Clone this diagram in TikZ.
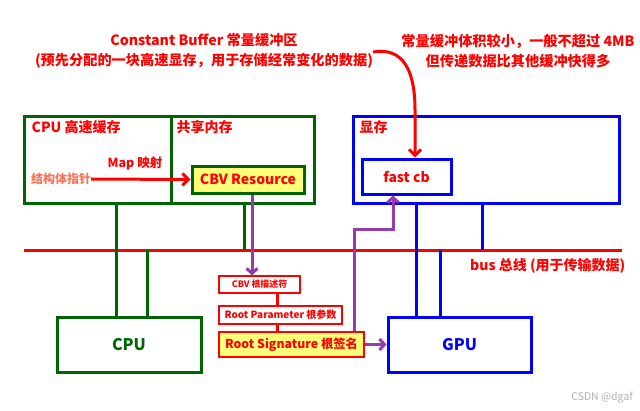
\documentclass[tikz,border=0pt]{standalone}
\usepackage{fontspec}
\setmainfont{Noto Sans CJK SC}
\usetikzlibrary{arrows.meta}
\definecolor{memgreen}{RGB}{0,100,0}
\definecolor{busred}{RGB}{255,0,0}
\definecolor{vramblue}{RGB}{0,0,255}
\definecolor{sigpurple}{RGB}{150,60,170}
\definecolor{ptrorange}{RGB}{250,115,85}
\definecolor{resyellow}{RGB}{255,255,120}
\begin{document}
\begin{tikzpicture}[
  x=1pt, y=-1pt,
  greenbox/.style={draw=memgreen, line width=3pt, inner sep=0pt},
  bluebox/.style={draw=vramblue, line width=3pt, inner sep=0pt},
  redbox/.style={draw=busred, line width=2.6pt, inner sep=0pt, text=busred},
  greenline/.style={draw=memgreen, line width=3pt},
  blueline/.style={draw=vramblue, line width=3pt},
  redline/.style={draw=busred, line width=2.6pt},
  redarrow/.style={draw=busred, line width=3pt, -{Straight Barb[length=6pt, width=12pt]}},
  purplearrow/.style={draw=sigpurple, line width=3pt, -{Straight Barb[length=5pt, width=11pt]}},
  note/.style={text=busred, align=center, font=\bfseries\fontsize{14.2}{20}\selectfont},
  boxlabel/.style={text=busred, inner sep=0pt, anchor=west, font=\bfseries\fontsize{14}{16}\selectfont},
  unitlabel/.style={font=\bfseries\fontsize{16}{20}\selectfont}
]
  \useasboundingbox[fill=white] (0,0) rectangle (640,410);

  % Notes
  \node[note] (cbnote) at (204,51) {Constant Buffer 常量缓冲区\\(预先分配的一块高速显存，用于存储经常变化的数据)};
  \node[note] (sizenote) at (518,51) {常量缓冲体积较小，一般不超过 4MB\\但传递数据比其他缓冲快得多};

  % Memory blocks
  \node[greenbox, minimum width=147, minimum height=87] (cache) at (97.5,159.5) {};
  \node[greenbox, minimum width=143, minimum height=87] (shared) at (242.5,159.5) {};
  \node[bluebox, minimum width=266, minimum height=87] (vram) at (486,159.5) {};
  \node[boxlabel] (cachelabel) at ([xshift=9, yshift=-13]cache.north west) {CPU 高速缓存};
  \node[boxlabel] (sharedlabel) at ([xshift=7, yshift=-13]shared.north west) {共享内存};
  \node[boxlabel] (vramlabel) at ([xshift=8, yshift=-13]vram.north west) {显存};

  \node[greenbox, fill=resyellow, text=busred, minimum width=112, minimum height=27,
    font=\bfseries\fontsize{14}{16}\selectfont] (cbvres) at (248,179.5) {CBV Resource};
  \node[bluebox, text=busred, minimum width=89, minimum height=35,
    font=\bfseries\fontsize{13.9}{16}\selectfont] (fastcb) at (406.5,176.5) {fast cb};

  \node[text=ptrorange, inner sep=0pt, font=\bfseries\fontsize{12}{14}\selectfont] (pointer) at (61,179) {结构体指针};
  \node[text=busred, inner sep=0pt, font=\bfseries\fontsize{12.5}{14}\selectfont] (maplabel) at (135,163) {Map 映射};
  \draw[redarrow] (pointer.east) -- (cbvres.west);

  % Units
  \node[greenbox, text=memgreen, unitlabel, minimum width=144, minimum height=55] (cpu) at (129,344.5) {CPU};
  \node[bluebox, text=vramblue, unitlabel, minimum width=143, minimum height=55] (gpu) at (459.5,344.5) {GPU};

  % Root signature chain
  \node[redbox, line width=1.2pt, minimum width=81, minimum height=17,
    font=\bfseries\fontsize{8.9}{11}\selectfont] (cbvdesc) at (259.5,284.5) {CBV 根描述符};
  \node[redbox, minimum width=123, minimum height=18,
    font=\bfseries\fontsize{10}{12}\selectfont] (rootparam) at (280.5,315) {Root Parameter 根参数};
  \node[redbox, fill=resyellow, minimum width=145, minimum height=25,
    font=\bfseries\fontsize{12.3}{15}\selectfont] (rootsig) at (291.5,344.5) {Root Signature 根签名};

  % Bus
  \coordinate (busleft) at (24,250);
  \coordinate (busright) at (622,250);
  \draw[redline, line width=3pt] (busleft) -- (busright);
  \node[text=busred, anchor=west, inner sep=0pt, font=\bfseries\fontsize{14}{16}\selectfont] (buslabel) at (470,266) {bus 总线 (用于传输数据)};

  % Taps
  \coordinate (g1) at (116,250);
  \coordinate (g2) at (147,250);
  \coordinate (g3) at (244,250);
  \coordinate (b1) at (416,250);
  \coordinate (b2) at (440,250);
  \coordinate (b3) at (482,250);
  \draw[greenline] (g1 |- cache.south) -- (g1 |- cpu.north);
  \draw[greenline] (g2) -- (g2 |- cpu.north);
  \draw[greenline] (g3 |- shared.south) -- (g3);
  \draw[blueline] (b1 |- vram.south) -- (b1 |- gpu.north);
  \draw[blueline] (b2) -- (b2 |- gpu.north);
  \draw[blueline] (b3 |- vram.south) -- (b3);

  % Links
  \coordinate (r1) at (277.5,300);
  \draw[redline] (r1 |- cbvdesc.south) -- (r1 |- rootparam.north);
  \draw[redline] (r1 |- rootparam.south) -- (r1 |- rootsig.north);

  \coordinate (p1) at (252,230);
  \coordinate (p2) at (354,229);
  \coordinate (p3) at (393,229);
  \draw[purplearrow] (p1 |- cbvres.south) -- (p1 |- cbvdesc.north);
  \draw[purplearrow] (p2 |- rootsig.north) -- (p2) -- (p3) -- (p3 |- fastcb.south);
  \draw[purplearrow] (rootsig.east) -- (gpu.west);

  % Note arrow
  \coordinate (curvestart) at (373,52);
  \coordinate (curvedrop) at (415,110);
  \draw[redarrow] (curvestart) .. controls (403,47) and (415,70) .. (curvedrop) -- (curvedrop |- fastcb.north);

  \node[text=black!30, inner sep=0pt, font=\fontsize{10.5}{12}\selectfont] (watermark) at (602,398) {CSDN @dgaf};
\end{tikzpicture}
\end{document}
